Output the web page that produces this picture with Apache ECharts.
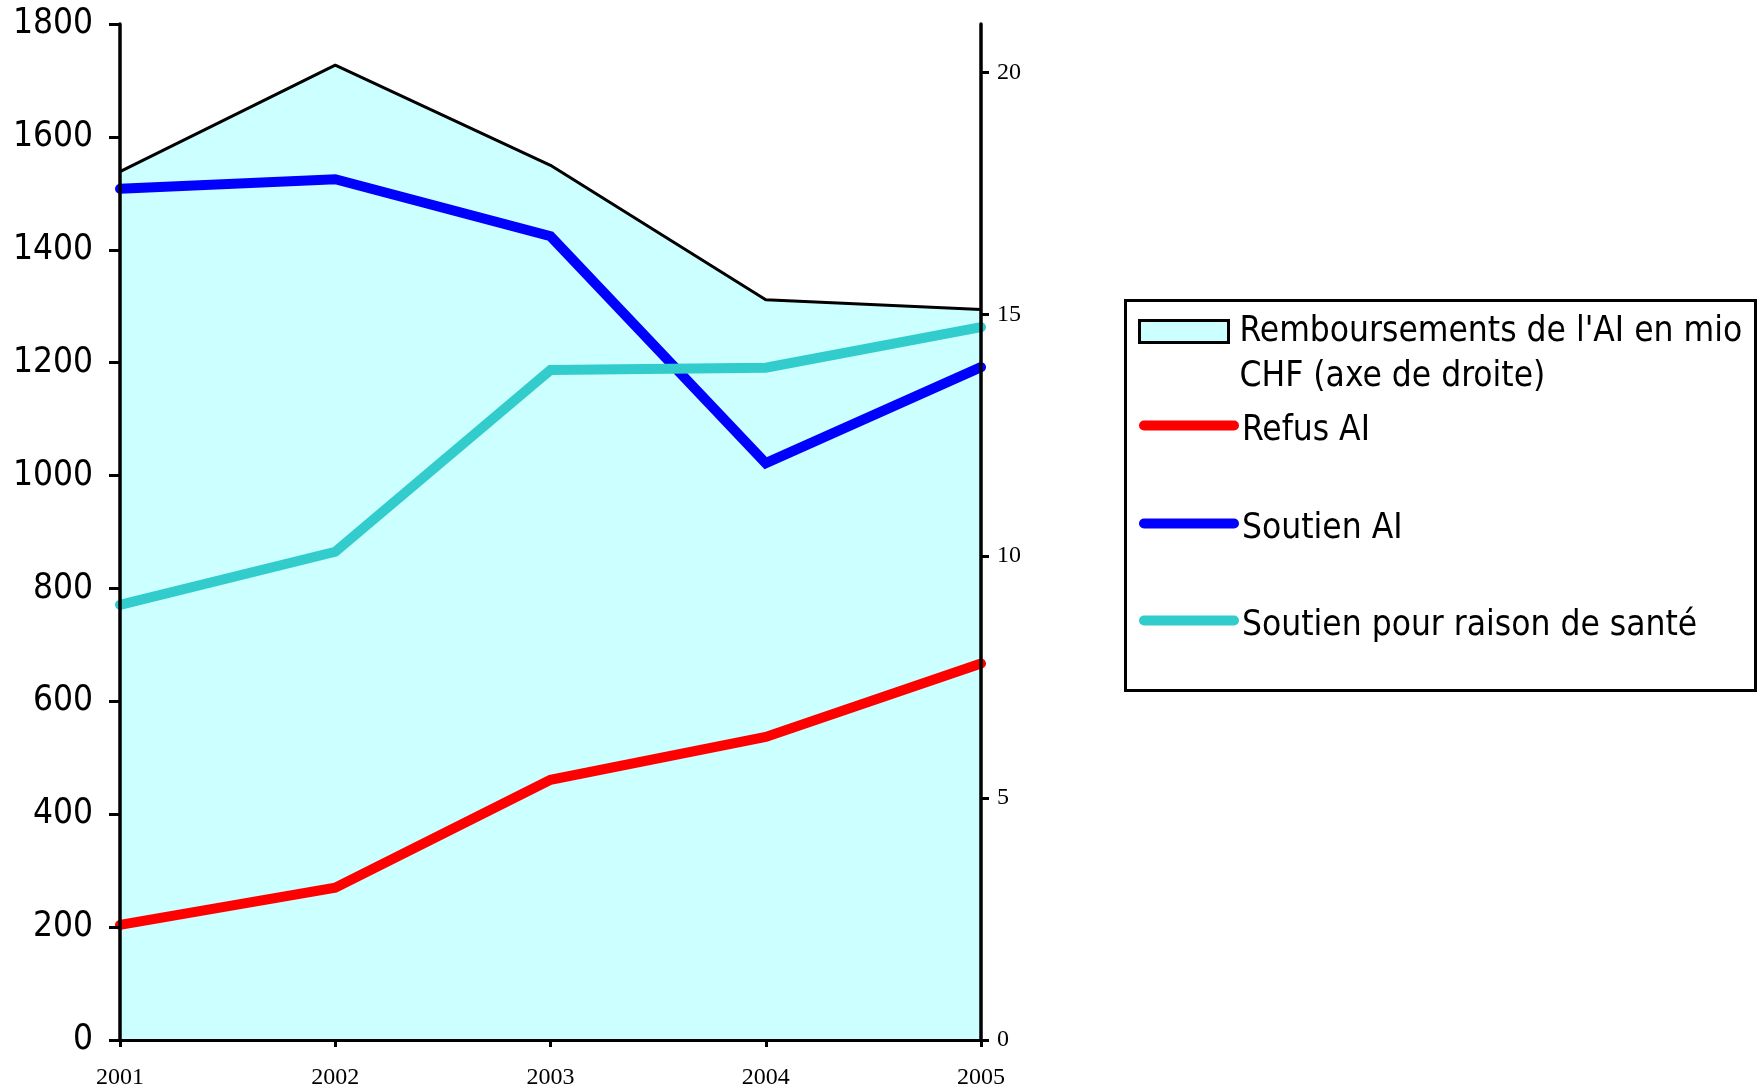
<!DOCTYPE html>
<html>
<head>
<meta charset="utf-8">
<script src="https://cdn.jsdelivr.net/npm/echarts@6/dist/echarts.min.js"></script>
<style>
html,body{margin:0;padding:0;background:#fff;}
#chart{width:1762px;height:1088px;}
</style>
</head>
<body>
<div id="chart"></div>
<script>
const years = ['2001', '2002', '2003', '2004', '2005'];
const remboursements = [17.95, 20.15, 18.08, 15.30, 15.10];
const refusAI = [204, 270, 461, 537, 667];
const soutienAI = [1508, 1525, 1424, 1022, 1192];
const soutienSante = [771, 865, 1187, 1191, 1263];
const leftTicks = [0, 200, 400, 600, 800, 1000, 1200, 1400, 1600, 1800];
const rightTicks = [0, 5, 10, 15, 20];

const nameArea = "Remboursements de l'AI en mio\nCHF (axe de droite)";
const nameRefus = 'Refus AI';
const nameSoutien = 'Soutien AI';
const nameSante = 'Soutien pour raison de santé';

const SANS = '"DejaVu Sans Condensed", "Liberation Sans Narrow", "DejaVu Sans", sans-serif';
const SERIF = '"Liberation Serif", "DejaVu Serif", serif';

function lineLegend(name, color, top) {
  return {
    data: [{ name: name }],
    left: 1139, top: top, orient: 'vertical', padding: 0,
    itemWidth: 90, itemHeight: 14,
    selectedMode: false,
    formatter: function (n) { return '{t|' + n + '}'; },
    lineStyle: { width: 10, color: color, cap: 'round' },
    itemStyle: { opacity: 0 },
    textStyle: {
      fontFamily: SANS, fontSize: 35, color: '#000', lineHeight: 45,
      rich: { t: { fontFamily: SANS, fontSize: 35, color: '#000', lineHeight: 45, padding: [10, 0, 0, 3] } }
    }
  };
}

const chart = echarts.init(document.getElementById('chart'), null, { renderer: 'canvas' });
chart.setOption({
  backgroundColor: '#fff',
  animation: false,
  grid: { left: 120, right: 781, top: 24, bottom: 48, containLabel: false, outerBoundsMode: 'none' },
  legend: [
    {
      data: [{ name: nameArea, icon: 'rect' }],
      left: 1138, top: 264, orient: 'vertical', padding: 0,
      itemWidth: 89, itemHeight: 22,
      selectedMode: false,
      formatter: function (n) { return '\n' + n; },
      itemStyle: { color: '#CCFFFF', borderColor: '#000', borderWidth: 3 },
      textStyle: { fontFamily: SANS, fontSize: 35, color: '#000', lineHeight: 45, padding: [0, 0, 0, 6] }
    },
    lineLegend(nameRefus, '#FF0000', 403),
    lineLegend(nameSoutien, '#0000FF', 501),
    lineLegend(nameSante, '#33CCCC', 598)
  ],
  graphic: [{
    type: 'rect', left: 1123, top: 298, silent: true, z: 0,
    shape: { width: 630, height: 390 },
    style: { fill: 'none', stroke: '#000', lineWidth: 3 }
  }],
  xAxis: {
    type: 'category', data: years, boundaryGap: false, z: 10,
    axisLine: { show: true, lineStyle: { color: '#000', width: 3 } },
    axisTick: { show: true, length: 7, lineStyle: { color: '#000', width: 3 } },
    axisLabel: { fontFamily: SERIF, fontSize: 24, color: '#000', margin: 26 },
    splitLine: { show: false }
  },
  yAxis: [
    {
      type: 'value', min: 0, max: 1800, interval: 200, position: 'left', z: 10,
      axisLine: { show: true, lineStyle: { color: '#000', width: 3.5 } },
      axisTick: { show: true, length: 11, lineStyle: { color: '#000', width: 3 } },
      axisLabel: { fontFamily: SANS, fontSize: 35, color: '#000', margin: 27,
        formatter: function (v) { return String(v); } },
      splitLine: { show: false }
    },
    {
      type: 'value', min: 0, max: 21, interval: 5, position: 'right', z: 10,
      axisLine: { show: true, lineStyle: { color: '#000', width: 3.5 } },
      axisTick: { show: true, length: 8, lineStyle: { color: '#000', width: 3 }, customValues: rightTicks },
      axisLabel: { fontFamily: SERIF, fontSize: 24, color: '#000', margin: 16, customValues: rightTicks },
      splitLine: { show: false }
    }
  ],
  series: [
    {
      name: nameArea, type: 'line', yAxisIndex: 1, data: remboursements,
      symbol: 'none', z: 1,
      lineStyle: { color: '#000', width: 3 },
      itemStyle: { color: '#CCFFFF', borderColor: '#000' },
      areaStyle: { color: '#CCFFFF', opacity: 1 }
    },
    {
      name: nameRefus, type: 'line', data: refusAI, symbol: 'none', z: 3,
      lineStyle: { color: '#FF0000', width: 10, cap: 'round', join: 'miter' },
      itemStyle: { color: '#FF0000' }
    },
    {
      name: nameSoutien, type: 'line', data: soutienAI, symbol: 'none', z: 3,
      lineStyle: { color: '#0000FF', width: 10, cap: 'round', join: 'miter' },
      itemStyle: { color: '#0000FF' }
    },
    {
      name: nameSante, type: 'line', data: soutienSante, symbol: 'none', z: 3,
      lineStyle: { color: '#33CCCC', width: 10, cap: 'round', join: 'miter' },
      itemStyle: { color: '#33CCCC' }
    }
  ]
});
</script>
</body>
</html>
